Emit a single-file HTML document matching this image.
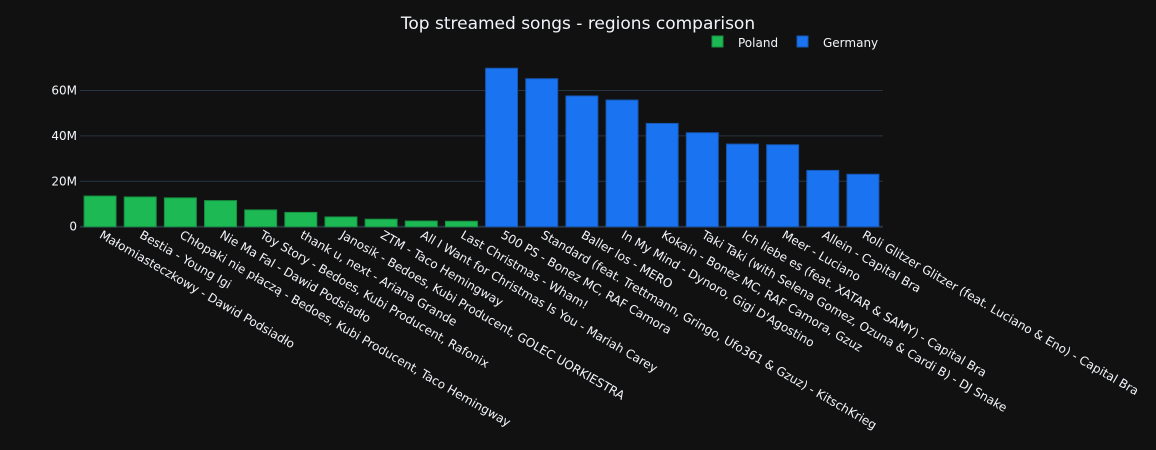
<!DOCTYPE html>
<html><head><meta charset="utf-8"><style>
html,body{margin:0;padding:0;background:#111111;}
svg{display:block;font-family:"DejaVu Sans","Liberation Sans",sans-serif;}
</style></head><body>
<svg id="chart" width="1156" height="450">
<rect width="1156" height="450" fill="#111111"/>
<text x="578" y="29" text-anchor="middle" fill="#f2f5fa" font-size="17">Top streamed songs - regions comparison</text>
<g>
<g><rect x="712" y="36" width="11" height="11" fill="#1db954" stroke="#168f41"/><text x="738" y="47" fill="#f2f5fa" font-size="12">Poland</text></g>
<g><rect x="797" y="36" width="11" height="11" fill="#1a73f0" stroke="#1556b0"/><text x="823" y="47" fill="#f2f5fa" font-size="12">Germany</text></g>
</g>
<g id="grid"></g><g id="bars"></g><g id="xlabels"></g><g id="ylabels"></g>
</svg>
<script>
const polandSongs=["Małomiasteczkowy - Dawid Podsiadło","Bestia - Young Igi","Chłopaki nie płaczą - Bedoes, Kubi Producent, Taco Hemingway","Nie Ma Fal - Dawid Podsiadło","Toy Story - Bedoes, Kubi Producent, Rafonix","thank u, next - Ariana Grande","Janosik - Bedoes, Kubi Producent, GOLEC UORKIESTRA","ZTM - Taco Hemingway","All I Want for Christmas Is You - Mariah Carey","Last Christmas - Wham!"];
const polandValues=[13.5,13.1,12.7,11.5,7.4,6.3,4.3,3.3,2.5,2.4];
const germanySongs=["500 PS - Bonez MC, RAF Camora","Standard (feat. Trettmann, Gringo, Ufo361 & Gzuz) - KitschKrieg","Baller los - MERO","In My Mind - Dynoro, Gigi D'Agostino","Kokain - Bonez MC, RAF Camora, Gzuz","Taki Taki (with Selena Gomez, Ozuna & Cardi B) - DJ Snake","Ich liebe es (feat. XATAR & SAMY) - Capital Bra","Meer - Luciano","Allein - Capital Bra","Roli Glitzer Glitzer (feat. Luciano & Eno) - Capital Bra"];
const germanyValues=[69.8,65.2,57.6,55.8,45.5,41.4,36.4,36.1,24.8,23.1];
const yTicks=[0,20,40,60];
const yTickLabels=["0","20M","40M","60M"];

const NS="http://www.w3.org/2000/svg";
const X0=80,X1=883,Y0=226.7,PX_PER_M=45.4/20;
const nCat=polandSongs.length+germanySongs.length;
const step=(X1-X0)/nCat;
const xc=i=>X0+step*(i+0.5);
const y=v=>Y0-v*PX_PER_M;
function mk(tag,attrs,parent){const e=document.createElementNS(NS,tag);for(const k in attrs)e.setAttribute(k,attrs[k]);parent.appendChild(e);return e;}
const grid=document.getElementById('grid'),bars=document.getElementById('bars'),xl=document.getElementById('xlabels'),yl=document.getElementById('ylabels');
yTicks.forEach((t,i)=>{
  const l=mk('line',{x1:X0,x2:X1,y1:y(t),y2:y(t),stroke:t===0?'#2a3440':'#283442','stroke-width':t===0?2:1},grid);
  
  
  const tx=mk('text',{x:X0-3,y:y(t)+4,'text-anchor':'end',fill:'#f2f5fa','font-size':12},yl);
  tx.textContent=yTickLabels[i];
  
  
});
const bw=32;
function drawSeries(songs,vals,offset,fill,stroke,name){
  songs.forEach((s,j)=>{
    const i=j+offset,cx=xc(i);
    const r=mk('rect',{x:cx-bw/2,y:y(vals[j]),width:bw,height:Y0-y(vals[j]),fill:fill,stroke:stroke,'stroke-width':1},bars);
    
    
    const t=mk('text',{x:0,y:0,fill:'#f2f5fa','font-size':12,transform:`translate(${cx-1.5},${Y0+10.5}) rotate(30)`},xl);
    t.textContent=s;
    
    
  });
}
drawSeries(polandSongs,polandValues,0,'#1db954','#168f41','poland');
drawSeries(germanySongs,germanyValues,polandSongs.length,'#1a73f0','#1556b0','germany');
</script>
</body></html>
